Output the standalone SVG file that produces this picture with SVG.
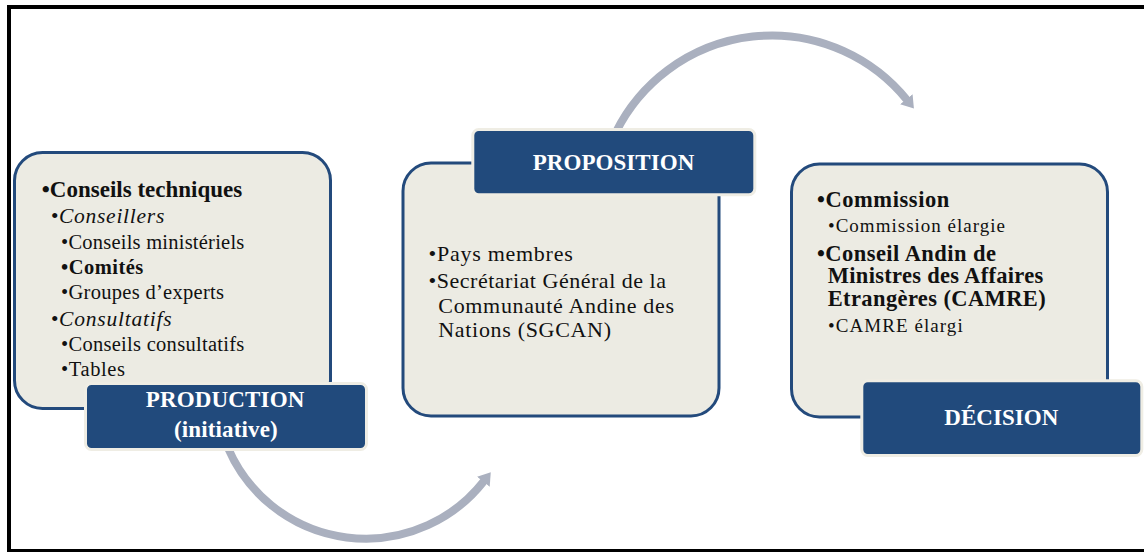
<svg xmlns="http://www.w3.org/2000/svg" width="1144" height="552" viewBox="0 0 1144 552">
<style>
.frame{fill:#ffffff;stroke:#000000;stroke-width:4}
.box{fill:#ecebe3;stroke:#234a7c;stroke-width:3}
.lbl{fill:#214a7c;stroke:#efede4;stroke-width:3}
.t{font-family:"Liberation Serif","Times New Roman",serif;fill:#111111}
.b{font-weight:bold}
.i{font-style:italic}
.w{font-family:"Liberation Serif","Times New Roman",serif;font-weight:bold;fill:#ffffff;font-size:23px;text-anchor:middle}
.arc{fill:none;stroke:#aab0bf;stroke-width:8}
</style>
<defs>
<marker id="head" markerUnits="userSpaceOnUse" viewBox="0 0 12 16" markerWidth="12" markerHeight="16" refX="1" refY="8" orient="auto">
<path d="M0,0 L12,8 L0,16 Z" fill="#aab0bf"/>
</marker>
</defs>
<rect class="frame" x="9" y="7" width="1160" height="544"/>
<g id="connectors">
<path class="arc" d="M 228 448 A 150 150 0 0 0 484 481" marker-end="url(#head)"/>
<path class="arc" d="M 616 132 A 174 174 0 0 1 907 100" marker-end="url(#head)"/>
</g>
<g id="production">
<rect class="box" x="14.5" y="152.5" width="316" height="256" rx="28"/>
<text class="t b" x="41.7" y="197" font-size="23" textLength="200.6" lengthAdjust="spacing">•Conseils techniques</text>
<text class="t i" x="50.7" y="222.5" font-size="21.5" textLength="113.6" lengthAdjust="spacing">•Conseillers</text>
<text class="t" x="61" y="249" font-size="20.5" textLength="183.3" lengthAdjust="spacing">•Conseils ministériels</text>
<text class="t b" x="61" y="274.3" font-size="20.5" textLength="82.3" lengthAdjust="spacing">•Comités</text>
<text class="t" x="61" y="299.3" font-size="20.5" textLength="163" lengthAdjust="spacing">•Groupes d’experts</text>
<text class="t i" x="50.7" y="325.7" font-size="21.5" textLength="121" lengthAdjust="spacing">•Consultatifs</text>
<text class="t" x="61" y="350.7" font-size="20.5" textLength="183.3" lengthAdjust="spacing">•Conseils consultatifs</text>
<text class="t" x="61" y="376" font-size="20.5" textLength="64" lengthAdjust="spacing">•Tables</text>
<rect class="lbl" x="85.5" y="383.5" width="281" height="66" rx="6"/>
<text class="w" x="225" y="406.7" textLength="158.6" lengthAdjust="spacing">PRODUCTION</text>
<text class="w" x="225.8" y="437" textLength="103.7" lengthAdjust="spacing">(initiative)</text>
</g>
<g id="proposition">
<rect class="box" x="403" y="163" width="316" height="253" rx="28"/>
<text class="t" x="428.5" y="260.7" font-size="22" textLength="144.2" lengthAdjust="spacing">•Pays membres</text>
<text class="t" x="428.5" y="288.3" font-size="22" textLength="237.5" lengthAdjust="spacing">•Secrétariat Général de la</text>
<text class="t" x="438.3" y="313.3" font-size="22" textLength="235.7" lengthAdjust="spacing">Communauté Andine des</text>
<text class="t" x="438.3" y="337.3" font-size="22" textLength="172.7" lengthAdjust="spacing">Nations (SGCAN)</text>
<rect class="lbl" x="472.8" y="129.5" width="282" height="65.3" rx="6"/>
<text class="w" x="613.5" y="170" textLength="161.6" lengthAdjust="spacing">PROPOSITION</text>
</g>
<g id="decision">
<rect class="box" x="791.5" y="164" width="316" height="253" rx="28"/>
<text class="t b" x="817" y="207.3" font-size="22.5" textLength="132.3" lengthAdjust="spacing">•Commission</text>
<text class="t" x="828" y="232.3" font-size="19" textLength="177" lengthAdjust="spacing">•Commission élargie</text>
<text class="t b" x="817" y="260.5" font-size="22.5" textLength="179" lengthAdjust="spacing">•Conseil Andin de</text>
<text class="t b" x="827.7" y="283" font-size="22.5" textLength="215.6" lengthAdjust="spacing">Ministres des Affaires</text>
<text class="t b" x="827.7" y="306" font-size="22.5" textLength="218" lengthAdjust="spacing">Etrangères (CAMRE)</text>
<text class="t" x="828" y="331.7" font-size="19" textLength="134.7" lengthAdjust="spacing">•CAMRE élargi</text>
<rect class="lbl" x="861.8" y="380.8" width="280" height="74.7" rx="6"/>
<text class="w" x="1001.3" y="425" textLength="114" lengthAdjust="spacing">DÉCISION</text>
</g>
</svg>
